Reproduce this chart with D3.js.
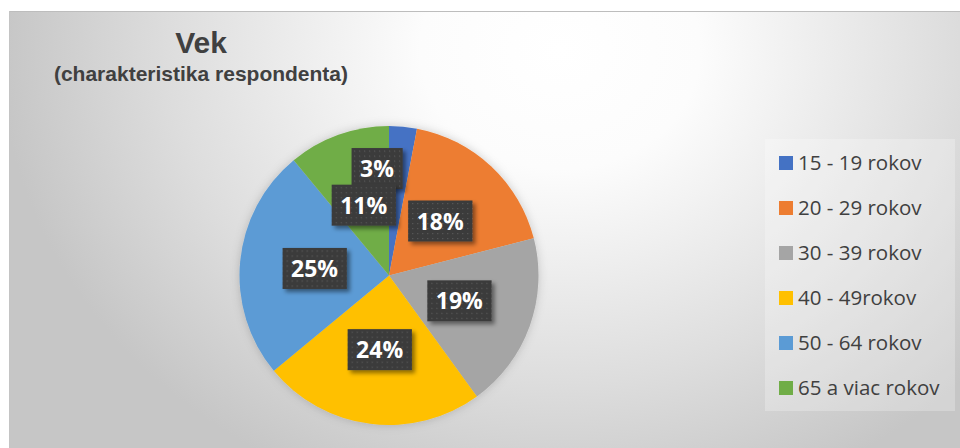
<!DOCTYPE html>
<html><head><meta charset="utf-8">
<script src="https://cdn.jsdelivr.net/npm/d3@7"></script>
<style>html,body{margin:0;padding:0;background:#fff;}svg{display:block;}</style>
</head><body>
<svg id="chart" width="960" height="448"></svg>
<script>
const categories = ["15 - 19 rokov", "20 - 29 rokov", "30 - 39 rokov", "40 - 49rokov", "50 - 64 rokov", "65 a viac rokov"];
const values = [3, 18, 19, 24, 25, 11];
const colors = ["#4472C4", "#ED7D31", "#A5A5A5", "#FFC000", "#5B9BD5", "#70AD47"];
const title = "Vek";
const subtitle = "(charakteristika respondenta)";

const svg = d3.select("#chart");
const defs = svg.append("defs");

// background gradient
const bg = defs.append("radialGradient").attr("id","bg").attr("gradientUnits","userSpaceOnUse")
  .attr("cx",560).attr("cy",50).attr("r",560)
  .attr("gradientTransform","translate(560,50) scale(1,0.85) translate(-560,-50)");
bg.append("stop").attr("offset",0).attr("stop-color","#ffffff");
bg.append("stop").attr("offset",0.25).attr("stop-color","#fcfcfc");
bg.append("stop").attr("offset",0.7).attr("stop-color","#dddddd");
bg.append("stop").attr("offset",1).attr("stop-color","#c6c6c6");

// label pattern
const pat = defs.append("pattern").attr("id","dots").attr("patternUnits","userSpaceOnUse")
  .attr("width",5).attr("height",5);
pat.append("rect").attr("width",5).attr("height",5).attr("fill","#3b3b3b");
pat.append("rect").attr("x",2).attr("y",2).attr("width",1.2).attr("height",1.2).attr("fill","#5a5a5a");

const sh = defs.append("filter").attr("id","shadow").attr("x","-30%").attr("y","-30%").attr("width","160%").attr("height","160%");
sh.append("feDropShadow").attr("dx",3).attr("dy",3).attr("stdDeviation",2).attr("flood-color","#000").attr("flood-opacity",0.45);
const psh = defs.append("filter").attr("id","pieshadow").attr("x","-20%").attr("y","-20%").attr("width","140%").attr("height","140%");
psh.append("feDropShadow").attr("dx",0).attr("dy",0).attr("stdDeviation",5).attr("flood-color","#000").attr("flood-opacity",0.18);

svg.append("rect").attr("x",10).attr("y",11).attr("width",950).attr("height",437).attr("fill","url(#bg)");
svg.append("line").attr("x1",9.5).attr("x2",960).attr("y1",11.5).attr("y2",11.5).attr("stroke","#bdbdbd");
svg.append("line").attr("x1",9.5).attr("x2",9.5).attr("y1",11).attr("y2",448).attr("stroke","#c4c4c4");

// title
svg.append("text").attr("x",201).attr("y",53).attr("text-anchor","middle")
  .attr("font-family","Liberation Sans, Arial, sans-serif").attr("font-weight","bold")
  .attr("font-size",30).attr("fill","#404040").text(title);
svg.append("text").attr("x",201).attr("y",81).attr("text-anchor","middle")
  .attr("font-family","Liberation Sans, Arial, sans-serif").attr("font-weight","bold")
  .attr("font-size",21).attr("fill","#404040").text(subtitle);

// pie
const cx = 389, cy = 275.5, R = 149.5;
const pie = d3.pie().sort(null).value(d => d);
const arcs = pie(values);
const arc = d3.arc().innerRadius(0).outerRadius(R);
const labelArc = d3.arc().innerRadius(R*0.5).outerRadius(R*0.5);
const color = d3.scaleOrdinal().domain(categories).range(colors);

const g = svg.append("g").attr("transform",`translate(${cx},${cy})`);
g.append("g").attr("filter","url(#pieshadow)").selectAll("path").data(arcs).enter().append("path")
  .attr("d",arc).attr("fill",(d,i)=>color(categories[i]));

// labels: place at half radius; small slices pushed outward (best fit)
const labels = arcs.map((d,i) => {
  let [x,y] = labelArc.centroid(d);
  if ((d.endAngle - d.startAngle) < 0.25) {
    const a = (d.startAngle + d.endAngle)/2 - 0.206;
    const r = R*0.72;
    x = r*Math.sin(a); y = -r*Math.cos(a);
  }
  return {x, y, text: Math.round(values[i]/d3.sum(values)*100) + "%", i};
});
// draw small-slice labels first so larger ones overlap them
const order = labels.slice().sort((a,b)=> values[a.i]-values[b.i]);
const lg = g.append("g");
order.forEach(l => {
  const gg = lg.append("g").attr("transform",`translate(${l.x},${l.y})`);
  const t = gg.append("text").attr("text-anchor","middle").attr("dy","0.37em")
    .attr("font-family","Open Sans, sans-serif").attr("font-weight","bold")
    .attr("font-size",23).attr("fill","#fff").text(l.text);
  const bb = t.node().getBBox();
  gg.insert("rect","text").attr("x",bb.x-8.5).attr("y",-20.5).attr("width",bb.width+17).attr("height",41)
    .attr("fill","url(#dots)").attr("filter","url(#shadow)");
});

// legend
const legend = svg.append("g");
legend.append("rect").attr("x",765).attr("y",139).attr("width",190).attr("height",272)
  .attr("fill","#ffffff").attr("fill-opacity",0.25);
const ly = d3.scalePoint().domain(categories).range([163,388]);
categories.forEach((c,i) => {
  legend.append("rect").attr("x",779).attr("y",ly(c)-7).attr("width",14).attr("height",14).attr("fill",color(c));
  legend.append("text").attr("x",798).attr("y",ly(c)).attr("dy","0.35em")
    .attr("font-family","Open Sans, sans-serif").attr("font-size",20.5).attr("fill","#404040").text(c);
});
</script>
</body></html>
